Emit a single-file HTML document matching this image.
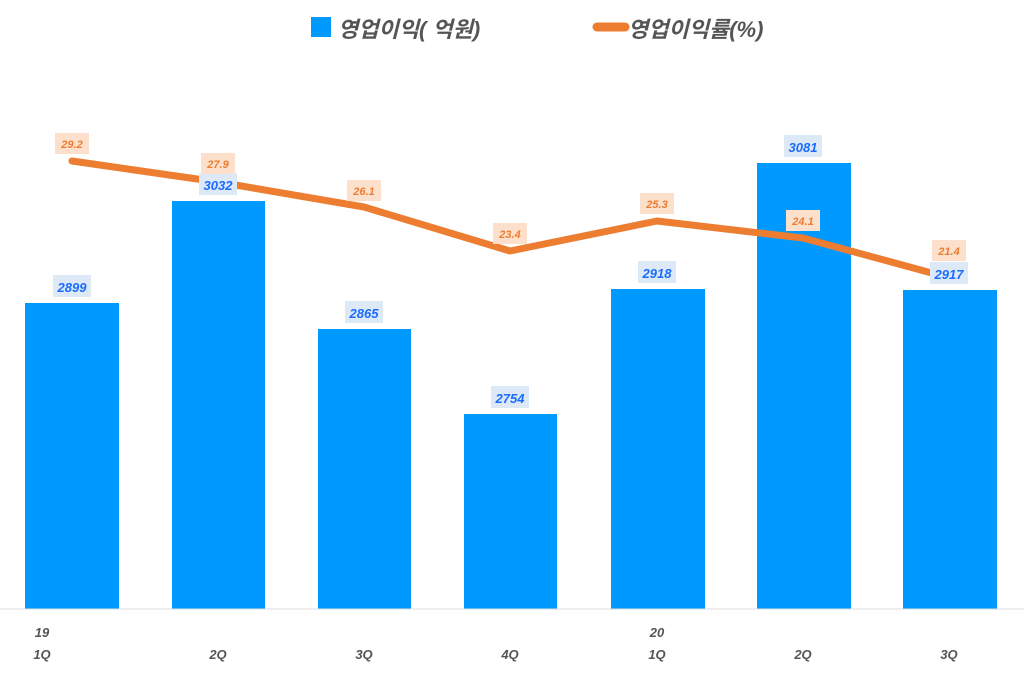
<!DOCTYPE html>
<html><head><meta charset="utf-8"><style>
body{margin:0;background:#fff;}
svg text{font-family:"Liberation Sans","Noto Sans CJK KR",sans-serif;font-style:italic;font-weight:bold;}
</style></head><body>
<svg width="1024" height="675" xmlns="http://www.w3.org/2000/svg">
<rect x="311" y="17" width="20" height="20" fill="#0099ff"/>
<text x="338" y="37" font-size="22" fill="#555">영업이익( 억원)</text>
<line x1="597" y1="27" x2="625" y2="27" stroke="#ed7d31" stroke-width="9" stroke-linecap="round"/>
<text x="628" y="37" font-size="22" fill="#555">영업이익률(%)</text>
<g fill="#0099ff">
<rect x="25" y="303" width="94" height="306"/>
<rect x="172" y="201" width="93" height="408"/>
<rect x="318" y="329" width="93" height="280"/>
<rect x="464" y="414" width="93" height="195"/>
<rect x="611" y="289" width="94" height="320"/>
<rect x="757" y="163" width="94" height="446"/>
<rect x="903" y="290" width="94" height="319"/>
</g>
<line x1="0" y1="609" x2="1024" y2="609" stroke="#ddd"/>
<polyline points="72,161 218,182 364,207 510,251 657,221 803,238 950,278" fill="none" stroke="#ed7d31" stroke-width="7" stroke-linecap="round" stroke-linejoin="round"/>
<g font-size="13" fill="#1a6cff" text-anchor="middle">
<rect x="53" y="275" width="38" height="22" fill="#dde9f7"/><text x="72" y="292">2899</text>
<rect x="199" y="173" width="38" height="22" fill="#dde9f7"/><text x="218" y="190">3032</text>
<rect x="345" y="301" width="38" height="22" fill="#dde9f7"/><text x="364" y="318">2865</text>
<rect x="491" y="386" width="38" height="22" fill="#dde9f7"/><text x="510" y="403">2754</text>
<rect x="638" y="261" width="38" height="22" fill="#dde9f7"/><text x="657" y="278">2918</text>
<rect x="784" y="135" width="38" height="22" fill="#dde9f7"/><text x="803" y="152">3081</text>
<rect x="930" y="262" width="38" height="22" fill="#dde9f7"/><text x="949" y="279">2917</text>
</g>
<g font-size="11" fill="#ed7d31" text-anchor="middle">
<rect x="55" y="133" width="34" height="21" fill="#fce0cc"/><text x="72" y="148">29.2</text>
<rect x="201" y="153" width="34" height="21" fill="#fce0cc"/><text x="218" y="168">27.9</text>
<rect x="347" y="180" width="34" height="21" fill="#fce0cc"/><text x="364" y="195">26.1</text>
<rect x="493" y="223" width="34" height="21" fill="#fce0cc"/><text x="510" y="238">23.4</text>
<rect x="640" y="193" width="34" height="21" fill="#fce0cc"/><text x="657" y="208">25.3</text>
<rect x="786" y="210" width="34" height="21" fill="#fce0cc"/><text x="803" y="225">24.1</text>
<rect x="932" y="240" width="34" height="21" fill="#fce0cc"/><text x="949" y="255">21.4</text>
</g>
<g font-size="13" fill="#555" text-anchor="middle">
<text x="42" y="637">19</text><text x="42" y="659">1Q</text>
<text x="218" y="659">2Q</text><text x="364" y="659">3Q</text><text x="510" y="659">4Q</text>
<text x="657" y="637">20</text><text x="657" y="659">1Q</text>
<text x="803" y="659">2Q</text><text x="949" y="659">3Q</text>
</g>
</svg>
</body></html>
